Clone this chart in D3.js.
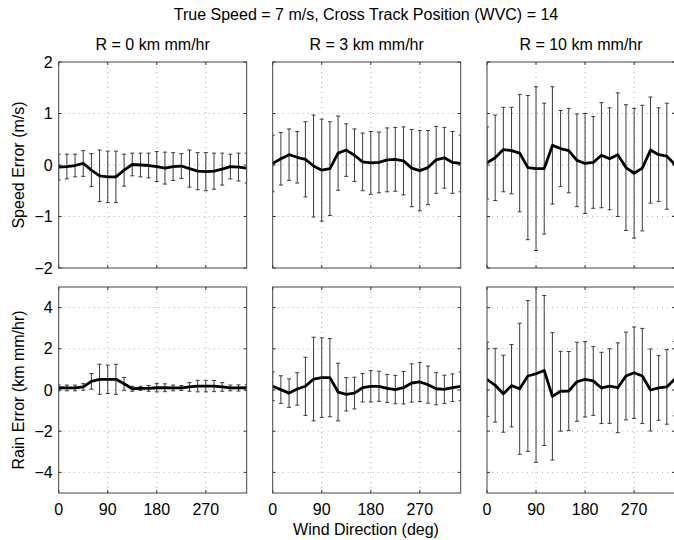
<!DOCTYPE html>
<html>
<head>
<meta charset="utf-8">
<script src="https://cdn.jsdelivr.net/npm/d3@7"></script>
<style>
  body { margin: 0; background: #fff; }
  text { font-family: "Liberation Sans", Arial, sans-serif; fill: #000; }
</style>
</head>
<body>
<div id="chart"></div>
<script>
// wind directions (deg)
var angles = [0, 15, 30, 45, 60, 75, 90, 105, 120, 135, 150, 165,
              180, 195, 210, 225, 240, 255, 270, 285, 300, 315, 330, 345];

// speed error mean / std, R = 0, 3, 10
var spdMeanR0  = [-0.04, -0.03, -0.01, 0.03, -0.10, -0.21, -0.23, -0.23, -0.10, 0.01, 0.00, -0.01,
                  -0.03, -0.06, -0.03, -0.02, -0.07, -0.12, -0.13, -0.12, -0.08, -0.03, -0.04, -0.06];
var spdStdR0   = [0.25, 0.24, 0.22, 0.25, 0.32, 0.50, 0.50, 0.50, 0.31, 0.22, 0.23, 0.24,
                  0.29, 0.31, 0.27, 0.24, 0.36, 0.36, 0.37, 0.35, 0.31, 0.24, 0.27, 0.29];
var spdMeanR3  = [0.03, 0.12, 0.20, 0.15, 0.11, -0.02, -0.10, -0.07, 0.23, 0.29, 0.19, 0.06,
                  0.04, 0.05, 0.10, 0.11, 0.08, -0.06, -0.11, -0.05, 0.10, 0.14, 0.05, 0.03];
var spdStdR3   = [0.55, 0.51, 0.50, 0.50, 0.73, 0.99, 0.99, 0.91, 0.72, 0.51, 0.51, 0.56,
                  0.61, 0.59, 0.62, 0.62, 0.66, 0.75, 0.78, 0.72, 0.65, 0.59, 0.60, 0.55];
var spdMeanR10 = [0.04, 0.14, 0.30, 0.28, 0.23, -0.05, -0.07, -0.07, 0.38, 0.32, 0.28, 0.09,
                  0.03, 0.05, 0.19, 0.12, 0.20, -0.05, -0.16, -0.06, 0.29, 0.20, 0.17, 0.01];
var spdStdR10  = [0.70, 0.83, 0.82, 0.84, 1.14, 1.40, 1.59, 1.27, 1.14, 0.74, 0.82, 0.90,
                  0.97, 0.89, 1.02, 0.99, 1.20, 1.22, 1.26, 1.22, 1.03, 0.91, 1.03, 1.00];

// rain error mean / std, R = 0, 3, 10
var rainMeanR0  = [0.11, 0.10, 0.10, 0.15, 0.42, 0.52, 0.52, 0.52, 0.30, 0.06, 0.08, 0.08,
                   0.11, 0.11, 0.10, 0.10, 0.15, 0.19, 0.19, 0.19, 0.15, 0.10, 0.10, 0.11];
var rainStdR0   = [0.14, 0.14, 0.14, 0.16, 0.38, 0.73, 0.69, 0.73, 0.31, 0.12, 0.10, 0.14,
                   0.20, 0.19, 0.14, 0.12, 0.21, 0.28, 0.28, 0.27, 0.21, 0.14, 0.15, 0.14];
var rainMeanR3  = [0.18, 0.02, -0.15, 0.05, 0.18, 0.53, 0.60, 0.60, -0.10, -0.21, -0.15, 0.11,
                   0.18, 0.18, 0.08, 0.02, 0.11, 0.34, 0.39, 0.26, 0.06, 0.03, 0.11, 0.18];
var rainStdR3   = [0.70, 0.67, 0.69, 0.79, 1.41, 2.03, 1.93, 1.90, 1.40, 0.81, 0.77, 0.69,
                   0.76, 0.73, 0.68, 0.69, 0.79, 0.93, 0.95, 0.90, 0.78, 0.69, 0.67, 0.70];
var rainMeanR10 = [0.52, 0.23, -0.18, 0.21, 0.06, 0.68, 0.79, 0.95, -0.31, -0.06, -0.05, 0.40,
                   0.52, 0.44, 0.10, 0.19, 0.11, 0.68, 0.84, 0.68, 0.00, 0.10, 0.15, 0.55];
var rainStdR10  = [1.80, 1.79, 1.87, 2.00, 3.18, 3.66, 4.30, 3.64, 3.09, 1.94, 1.92, 1.92,
                   1.83, 1.67, 1.73, 1.81, 2.18, 2.13, 2.22, 2.31, 1.99, 1.57, 1.81, 1.80];

var colTitles  = ['R = 0 km mm/hr', 'R = 3 km mm/hr', 'R = 10 km mm/hr'];
var xTicks     = [0, 90, 180, 270];
var spdTicks   = [-2, -1, 0, 1, 2];
var rainTicks  = [-4, -2, 0, 2, 4];

var width  = 674;
var height = 540;
var svg = d3.select('#chart').append('svg')
    .attr('width', width)
    .attr('height', height);

var fs     = 16;
var panelW = 188;
var colX   = [58.7, 272.7, 487];
var rows = [
    { top: 62,  bottom: 268, domain: [-2, 2], ticks: spdTicks,
      means: [spdMeanR0, spdMeanR3, spdMeanR10], stds: [spdStdR0, spdStdR3, spdStdR10] },
    { top: 287, bottom: 493, domain: [-5, 5], ticks: rainTicks,
      means: [rainMeanR0, rainMeanR3, rainMeanR10], stds: [rainStdR0, rainStdR3, rainStdR10] }
];

var fmt = function(d){ return d < 0 ? '\u2212' + Math.abs(d) : String(d); };

rows.forEach(function(row, r){
    colX.forEach(function(left, c){
        var x = d3.scaleLinear().domain([0, 345]).range([left, left + panelW]);
        var y = d3.scaleLinear().domain(row.domain).range([row.bottom, row.top]);
        var g = svg.append('g');
        var clipId = 'clip' + r + c;
        g.append('clipPath').attr('id', clipId)
            .append('rect')
            .attr('x', left).attr('y', row.top)
            .attr('width', panelW).attr('height', row.bottom - row.top);

        // dotted grid
        g.selectAll('.gx').data(xTicks.slice(1)).enter().append('line')
            .attr('x1', function(d){ return x(d); }).attr('x2', function(d){ return x(d); })
            .attr('y1', row.top).attr('y2', row.bottom)
            .attr('stroke', '#999').attr('stroke-width', 0.8)
            .attr('stroke-dasharray', '1,4');
        g.selectAll('.gy').data(row.ticks.filter(function(d){ return d > row.domain[0] && d < row.domain[1]; }))
            .enter().append('line')
            .attr('x1', left).attr('x2', left + panelW)
            .attr('y1', function(d){ return y(d); }).attr('y2', function(d){ return y(d); })
            .attr('stroke', '#999').attr('stroke-width', 0.8)
            .attr('stroke-dasharray', '1,4');

        // inward ticks (all four sides)
        var tl = 3;
        row.ticks.forEach(function(t){
            g.append('line').attr('x1', left).attr('x2', left + tl)
                .attr('y1', y(t)).attr('y2', y(t)).attr('stroke', '#333');
            g.append('line').attr('x1', left + panelW - tl).attr('x2', left + panelW)
                .attr('y1', y(t)).attr('y2', y(t)).attr('stroke', '#333');
        });
        xTicks.forEach(function(t){
            g.append('line').attr('x1', x(t)).attr('x2', x(t))
                .attr('y1', row.bottom).attr('y2', row.bottom - tl).attr('stroke', '#333');
            g.append('line').attr('x1', x(t)).attr('x2', x(t))
                .attr('y1', row.top).attr('y2', row.top + tl).attr('stroke', '#333');
        });

        var means = row.means[c];
        var stds  = row.stds[c];
        var data  = angles.map(function(a, i){ return { a: a, m: means[i], s: stds[i] }; });
        var plot  = g.append('g').attr('clip-path', 'url(#' + clipId + ')');

        // error bars
        var eb = plot.selectAll('.eb').data(data).enter().append('g')
            .attr('stroke', '#3a3a3a').attr('stroke-width', 1);
        eb.append('line')
            .attr('x1', function(d){ return x(d.a); }).attr('x2', function(d){ return x(d.a); })
            .attr('y1', function(d){ return y(d.m + d.s); })
            .attr('y2', function(d){ return y(d.m - d.s); });
        eb.append('line')
            .attr('x1', function(d){ return x(d.a) - 2; }).attr('x2', function(d){ return x(d.a) + 2; })
            .attr('y1', function(d){ return y(d.m + d.s); }).attr('y2', function(d){ return y(d.m + d.s); });
        eb.append('line')
            .attr('x1', function(d){ return x(d.a) - 2; }).attr('x2', function(d){ return x(d.a) + 2; })
            .attr('y1', function(d){ return y(d.m - d.s); }).attr('y2', function(d){ return y(d.m - d.s); });

        // mean line
        plot.append('path').datum(data)
            .attr('fill', 'none').attr('stroke', '#000').attr('stroke-width', 2.8)
            .attr('stroke-linejoin', 'round')
            .attr('d', d3.line().x(function(d){ return x(d.a); }).y(function(d){ return y(d.m); }));

        // box
        g.append('rect')
            .attr('x', left).attr('y', row.top)
            .attr('width', panelW).attr('height', row.bottom - row.top)
            .attr('fill', 'none').attr('stroke', '#444').attr('stroke-width', 1);

        // tick labels
        if (c === 0) {
            g.selectAll('.yl').data(row.ticks).enter().append('text')
                .attr('x', left - 6).attr('y', function(d){ return y(d); })
                .attr('dy', '0.35em').attr('text-anchor', 'end')
                .attr('font-size', fs).text(fmt);
        }
        if (r === 1) {
            g.selectAll('.xl').data(xTicks).enter().append('text')
                .attr('x', function(d){ return x(d); }).attr('y', row.bottom + 22)
                .attr('text-anchor', 'middle')
                .attr('font-size', fs).text(fmt);
        }
        if (r === 0) {
            g.append('text').attr('x', left + panelW / 2).attr('y', 50)
                .attr('text-anchor', 'middle').attr('font-size', fs)
                .text(colTitles[c]);
        }
    });
});

// overall title and axis labels
svg.append('text').attr('x', 366).attr('y', 20)
    .attr('text-anchor', 'middle').attr('font-size', fs)
    .text('True Speed = 7 m/s, Cross Track Position (WVC) = 14');
svg.append('text').attr('x', 366).attr('y', 535)
    .attr('text-anchor', 'middle').attr('font-size', fs)
    .text('Wind Direction (deg)');
svg.append('text').attr('transform', 'translate(24,165) rotate(-90)')
    .attr('text-anchor', 'middle').attr('font-size', fs)
    .text('Speed Error (m/s)');
svg.append('text').attr('transform', 'translate(24,390) rotate(-90)')
    .attr('text-anchor', 'middle').attr('font-size', fs)
    .text('Rain Error (km mm/hr)');
</script>
</body>
</html>
